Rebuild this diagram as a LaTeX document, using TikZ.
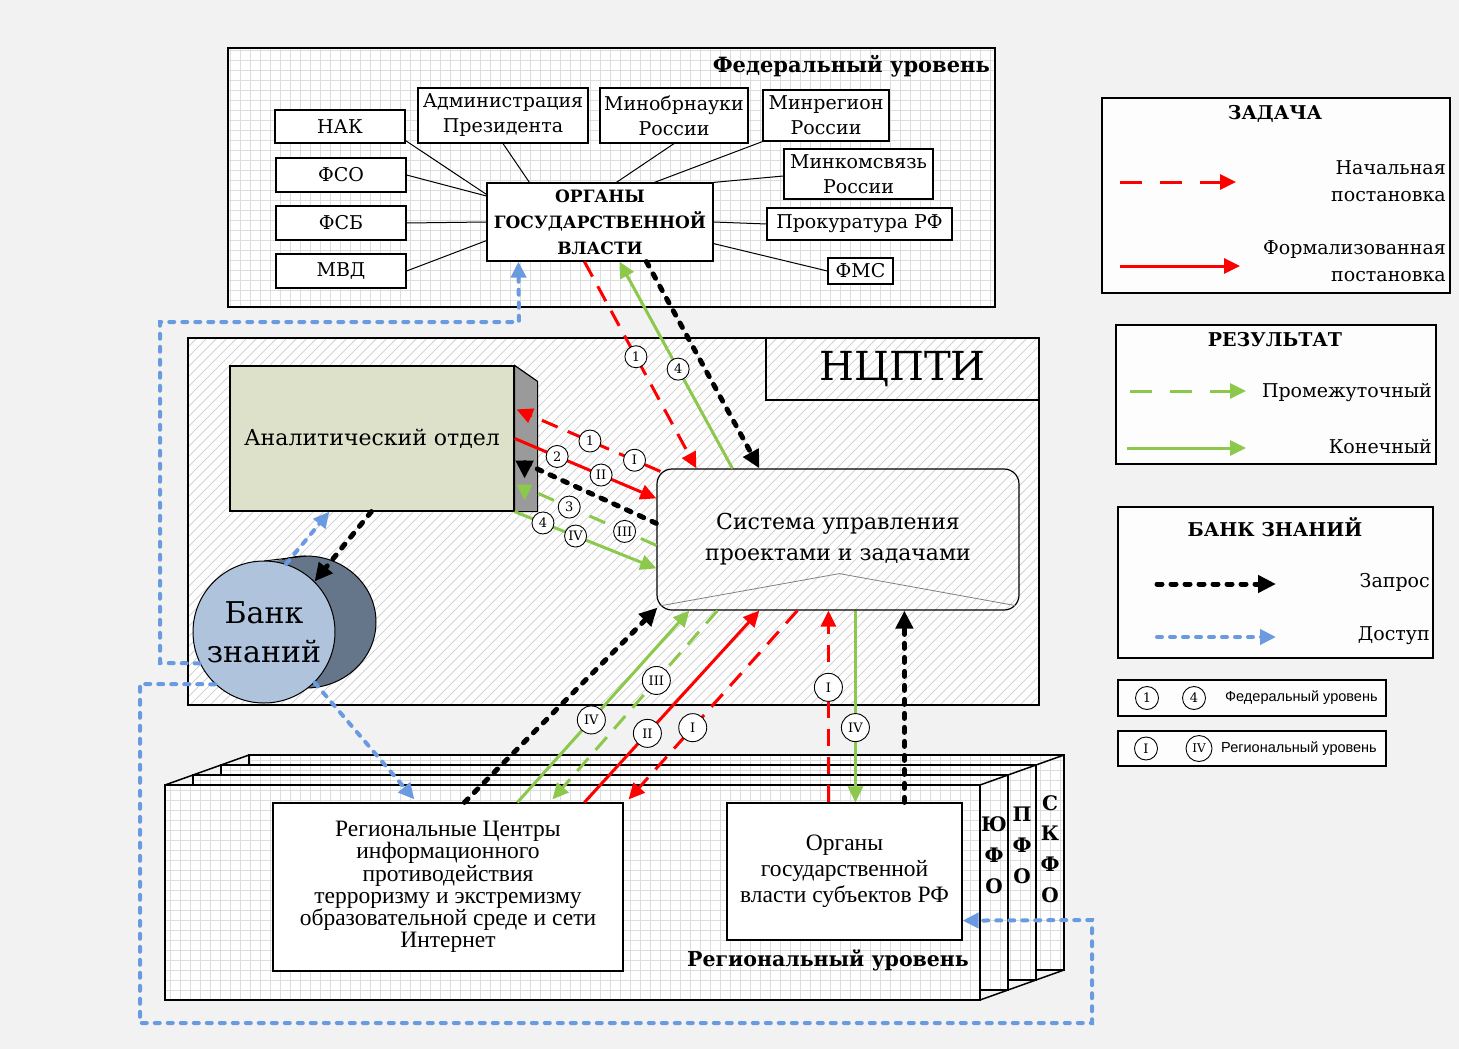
\documentclass[tikz,border=0pt]{standalone}
\usepackage{fontspec}
\setmainfont{DejaVu Serif}
\newfontfamily\libser{Liberation Serif}
\newfontfamily\libsans{Liberation Sans}
\usetikzlibrary{arrows.meta,calc}
\newcommand\myfs[2]{\fontsize{#1}{#2}\selectfont}
\definecolor{cred}{HTML}{FF0000}
\definecolor{cgreen}{HTML}{8CC84B}
\definecolor{cblue}{HTML}{6A9BE0}
\definecolor{gridc}{HTML}{DDDDDD}
\definecolor{hatchc}{HTML}{CCCCCC}
\definecolor{olivef}{HTML}{DEE1CA}
\definecolor{sideg}{HTML}{9A9A9A}
\definecolor{bankf}{HTML}{AFC3DD}
\definecolor{bankb}{HTML}{66768A}
\definecolor{bgc}{HTML}{F2F2F2}
\definecolor{legf}{HTML}{FDFDFD}
\begin{document}
\begin{tikzpicture}[x=1pt,y=-1pt,
  box/.style={draw, fill=white, line width=1.2pt, inner sep=0pt, align=center, font=\myfs{19}{25}},
  link/.style={line width=1pt},
  tipA/.style={-{Triangle[length=16pt,width=15pt]}},
  redD/.style={cred, line width=3pt, dash pattern=on 17pt off 11pt, tipA},
  redS/.style={cred, line width=3pt, tipA},
  grnD/.style={cgreen, line width=3pt, dash pattern=on 17pt off 11pt, tipA},
  grnS/.style={cgreen, line width=3pt, tipA},
  blkD/.style={black, line width=5pt, line cap=round, dash pattern=on 5pt off 9pt, -{Triangle[length=18pt,width=17pt]}},
  bluD/.style={cblue, line width=4pt, line cap=round, dash pattern=on 5pt off 8pt, -{Triangle[length=16pt,width=15pt]}},
  lab/.style={circle, solid, draw=black, fill=white, line width=0.9pt, inner sep=0pt, minimum size=22pt, font=\myfs{13}{13}, text=black},
  labb/.style={lab, minimum size=28pt},
  legbox/.style={draw, line width=1.5pt, fill=legf},
  legt/.style={anchor=east, align=right, font=\myfs{19}{27}, inner sep=0pt},
  legtitle/.style={font=\bfseries\myfs{19}{22}, inner sep=0pt},
]
\useasboundingbox (0,0) rectangle (1459,1049);
\fill[bgc] (0,0) rectangle (1459,1049);

% ---------------- Federal level
\fill[white] (228,48) rectangle (995,307);
\draw[gridc, line width=0.6pt, step=10pt] (228,307) grid (995,48);
\draw[line width=1.5pt] (228,48) rectangle (995,307);
\node[anchor=east, font=\bfseries\myfs{21}{24}, inner sep=0pt] (fedtitle) at (990,66) {Федеральный уровень};

\node[box, minimum width=130pt, minimum height=33pt] (nak) at (340,126.5) {НАК};
\node[box, minimum width=130pt, minimum height=34pt] (fso) at (341,175) {ФСО};
\node[box, minimum width=130pt, minimum height=34pt] (fsb) at (341,223) {ФСБ};
\node[box, minimum width=130pt, minimum height=34pt] (mvd) at (341,271) {МВД};
\node[box, minimum width=170pt, minimum height=55pt] (adm) at (503,115.5) {Администрация\\Президента};
\node[box, minimum width=148pt, minimum height=55pt] (minobr) at (674,115.5) {Минобрнауки\\России};
\node[box, minimum width=126pt, minimum height=51pt] (minreg) at (826,115.5) {Минрегион\\России};
\node[box, minimum width=149pt, minimum height=50pt] (minkom) at (858.5,174) {Минкомсвязь\\России};
\node[box, minimum width=185pt, minimum height=32pt] (prok) at (859.5,224) {Прокуратура РФ};
\node[box, minimum width=65pt, minimum height=26pt] (fms) at (860.5,271) {ФМС};
\node[box, minimum width=226pt, minimum height=78pt, font=\bfseries\myfs{17}{26}] (org) at (600,222) {ОРГАНЫ\\ГОСУДАРСТВЕННОЙ\\ВЛАСТИ};

\draw[link] ($(nak.south east)+(0,-3)$) -- ($(org.north west)+(0,12)$);
\draw[link] (adm.south) -- ($(org.north west)+(43,0)$);
\draw[link] (minobr.south) -- ($(org.north west)+(130,0)$);
\draw[link] (minreg.south west) -- ($(org.north west)+(168,0)$);
\draw[link] ($(minkom.west)+(0,2)$) -- (org.north east);
\draw[link] (prok.west) -- (org.east);
\draw[link] (fms.west) -- ($(org.south east)+(0,-18)$);
\draw[link] (fso.east) -- ($(org.west)+(0,-26)$);
\draw[link] (fsb.east) -- (org.west);
\draw[link] (mvd.east) -- ($(org.south west)+(0,-21)$);

% ---------------- NCPTI
\fill[white] (188,338) rectangle (1039,705);
\begin{scope}
\clip (188,338) rectangle (1039,705);
\foreach \s in {-180,-170,...,1040} \draw[hatchc, line width=0.7pt] (\s,705) -- ++(367,-367);
\end{scope}
\draw[line width=1.5pt] (188,338) rectangle (1039,705);
\node[draw, line width=1.5pt, minimum width=273pt, minimum height=62pt, inner sep=0pt, font=\myfs{40}{40}] (ncpti) at (902.5,369) {НЦПТИ};

% analytic department
\node[draw, line width=1.2pt, fill=olivef, minimum width=284pt, minimum height=145pt, inner sep=0pt, font=\myfs{22}{26}] (an) at (372,438.5) {Аналитический отдел};
\draw[line width=1.2pt, fill=sideg] (an.north east) -- ++(23,16) -- ($(an.south east)+(23,0)$) -- (an.south east) -- cycle;

% system
\node[draw, line width=1.2pt, rounded corners=15pt, minimum width=362pt, minimum height=141pt, inner sep=0pt, align=center, font=\myfs{22}{31}] (sys) at (838,539.5) {Система управления\\проектами и задачами};
\draw[gray, line width=0.8pt] ($(sys.south west)+(5,-5)$) -- ($(sys.south west)+(183,-37)$) -- ($(sys.south east)+(-4,-5)$);

% knowledge bank
\draw[fill=bankb, line width=1pt] (306,622) ellipse [x radius=70pt, y radius=66pt];
\fill[bankb] (264,562) -- (306,557) -- (306,687) -- (264,702) -- cycle;
\draw[line width=1pt] (264,561) -- (306,556);
\node[circle, draw, line width=1pt, fill=bankf, minimum size=142pt, inner sep=0pt, align=center, font=\myfs{30}{39}] (bank) at (264,632) {Банк\\знаний};

% ---------------- Regional level stack
\foreach \i in {3,2,1,0} {
  \pgfmathsetmacro\ox{28*\i}
  \pgfmathsetmacro\oy{-10*\i}
  \fill[white] (165+\ox,785+\oy) rectangle (980+\ox,1000+\oy);
  \draw[gridc, line width=0.6pt, step=10pt] (165+\ox,1000+\oy) grid (980+\ox,785+\oy);
  \draw[line width=1.5pt] (165+\ox,785+\oy) rectangle (980+\ox,1000+\oy);
}
\draw[line width=1.5pt] (165,785) -- (249,755);
\draw[line width=1.5pt] (980,785) -- (1064,755);
\draw[line width=1.5pt] (980,1000) -- (1064,970);

\node[box, minimum width=350pt, minimum height=168pt, font=\libser\myfs{23.5}{22.3}] (rc) at (448,887) {Региональные Центры\\информационного\\противодействия\\терроризму и экстремизму\\образовательной среде и сети\\Интернет};
\node[box, minimum width=235pt, minimum height=137pt, font=\libser\myfs{23.5}{26}] (og) at (844.5,871.5) {Органы\\государственной\\власти субъектов РФ};
\node[font=\bfseries\myfs{20.5}{24}, inner sep=0pt] (reglabel) at (828,960) {Региональный уровень};
\node[align=center, font=\bfseries\myfs{20}{31}, inner sep=0pt] (yufo) at (994,855) {Ю\\Ф\\О};
\node[align=center, font=\bfseries\myfs{20}{31}, inner sep=0pt] (pfo) at (1022,845) {П\\Ф\\О};
\node[align=center, font=\bfseries\myfs{20}{30.7}, inner sep=0pt] (skfo) at (1050,849) {С\\К\\Ф\\О};

% ---------------- Blue access paths
\draw[bluD] (bank.206) -- (160,663) -- (160,322) -- (519,322) -- ($(org.south west)+(32,0)$);
\draw[bluD] (bank.227) -- (140,684) -- (140,1023) -- (1092,1023) -- (1092,920) -- ($(og.south east)+(0,-20)$);
\draw[bluD] (bank.-45) -- ($(rc.north west)+(142,-3)$);
\draw[bluD] (bank.72) -- ($(an.south west)+(100,0)$);
\draw[blkD] ($(an.south west)+(142,0)$) -- (bank.45);

% ---------------- Federal <-> system
\draw[redD] ($(org.south west)+(98,0)$) -- node[lab, pos=0.46] (f1) {1} ($(sys.north west)+(40,0)$);
\draw[grnS] ($(sys.north west)+(76,0)$) -- node[lab, pos=0.48] (f4) {4} ($(org.south west)+(133,0)$);
\draw[blkD] ($(org.south west)+(160,0)$) -- ($(sys.north west)+(103,0)$);

% ---------------- Analytic <-> system
\draw[redD] ($(sys.north west)+(4,3)$) -- node[lab, pos=0.18] (a1r) {I} node[lab, pos=0.49] (a1) {1} ($(an.north east)+(2,44)$);
\draw[redS] (an.east) -- node[lab, pos=0.3] (a2) {2} node[lab, pos=0.61] (a2r) {II} ($(sys.north west)+(0,30)$);
\draw[blkD] ($(sys.north west)+(0,55)$) -- ($(an.south east)+(24,-42)$) -- ($(an.south east)+(10,-49)$) -- ($(an.south east)+(10,-33)$);
\draw[grnD] ($(sys.north west)+(0,77)$) -- node[lab, pos=0.27] (a3r) {III} node[lab, pos=0.74] (a3) {3} ($(an.south east)+(24,-18)$) -- ($(an.south east)+(10,-26)$) -- ($(an.south east)+(10,-11)$);
\draw[grnS] (an.south east) -- node[lab, pos=0.2] (a4) {4} node[lab, pos=0.43] (a4r) {IV} ($(sys.north west)+(0,100)$);

% ---------------- Regional <-> system
\draw[blkD] ($(rc.north west)+(192,0)$) -- ($(sys.south west)+(1,-3)$);
\draw[grnS] ($(rc.north west)+(245,0)$) -- node[labb, pos=0.43] (r4) {IV} ($(sys.south west)+(33,0)$);
\draw[grnD] ($(sys.south west)+(61,0)$) -- node[labb, pos=0.37] (r3) {III} ($(rc.north west)+(280,-3)$);
\draw[redS] ($(rc.north west)+(312,0)$) -- node[labb, pos=0.36] (r2) {II} ($(sys.south west)+(103,0)$);
\draw[redD] ($(sys.south west)+(141,0)$) -- node[labb, pos=0.62] (r1) {I} ($(rc.north east)+(5,-3)$);
\draw[redD] ($(og.north west)+(102,0)$) -- node[labb, pos=0.6] (o1) {I} ($(sys.south west)+(172,0)$);
\draw[grnS] ($(sys.south west)+(199,0)$) -- node[labb, pos=0.61] (o4) {IV} ($(og.north west)+(129,0)$);
\draw[blkD] ($(og.north west)+(178,0)$) -- ($(sys.south west)+(248,0)$);

% ---------------- Legends
\node[legbox, minimum width=348pt, minimum height=195pt, inner sep=0pt] (lz) at (1276,195.5) {};
\node[legtitle] (lzt) at (1275,114) {ЗАДАЧА};
\coordinate (lz1a) at (1120,182); \coordinate (lz1b) at (1236,182);
\coordinate (lz2a) at (1120,266); \coordinate (lz2b) at (1240,266);
\draw[redD, dash pattern=on 22pt off 18pt] (lz1a) -- (lz1b);
\draw[redS] (lz2a) -- (lz2b);
\node[legt] (lzn) at (1446,181.5) {Начальная\\постановка};
\node[legt] (lzf) at (1446,261.5) {Формализованная\\постановка};

\node[legbox, minimum width=320pt, minimum height=139pt, inner sep=0pt] (lr) at (1276,394.5) {};
\node[legtitle] (lrt) at (1275,340) {РЕЗУЛЬТАТ};
\coordinate (lr1a) at (1130,391); \coordinate (lr1b) at (1246,391);
\coordinate (lr2a) at (1127,448); \coordinate (lr2b) at (1246,448);
\draw[grnD, dash pattern=on 22pt off 18pt] (lr1a) -- (lr1b);
\draw[grnS] (lr2a) -- (lr2b);
\node[legt] (lrp) at (1432,393) {Промежуточный};
\node[legt] (lrk) at (1432,447) {Конечный};

\node[legbox, minimum width=315pt, minimum height=151pt, inner sep=0pt] (lb) at (1275.5,582.5) {};
\node[legtitle] (lbt) at (1275,527) {БАНК ЗНАНИЙ};
\coordinate (lb1a) at (1157,584); \coordinate (lb1b) at (1276,584);
\coordinate (lb2a) at (1157,637); \coordinate (lb2b) at (1276,637);
\draw[blkD] (lb1a) -- (lb1b);
\draw[bluD] (lb2a) -- (lb2b);
\node[legt] (lbz) at (1430,582) {Запрос};
\node[legt] (lbd) at (1430,636) {Доступ};

\node[legbox, minimum width=268pt, minimum height=36pt, inner sep=0pt] (ll1) at (1252,698) {};
\node[lab, minimum size=23pt] (ll1a) at (1147,698) {1};
\node[lab, minimum size=23pt] (ll1b) at (1194,698) {4};
\node[anchor=west, inner sep=0pt, font=\libsans\myfs{14.5}{16}] (ll1t) at (1225,698) {Федеральный уровень};

\node[legbox, minimum width=268pt, minimum height=35pt, inner sep=0pt] (ll2) at (1252,748.5) {};
\node[lab, minimum size=23pt] (ll2a) at (1146,748.5) {I};
\node[lab, minimum size=26pt, font=\myfs{12}{12}] (ll2b) at (1199,748.5) {IV};
\node[anchor=west, inner sep=0pt, font=\libsans\myfs{14.5}{16}] (ll2t) at (1221,748.5) {Региональный уровень};
\end{tikzpicture}
\end{document}
